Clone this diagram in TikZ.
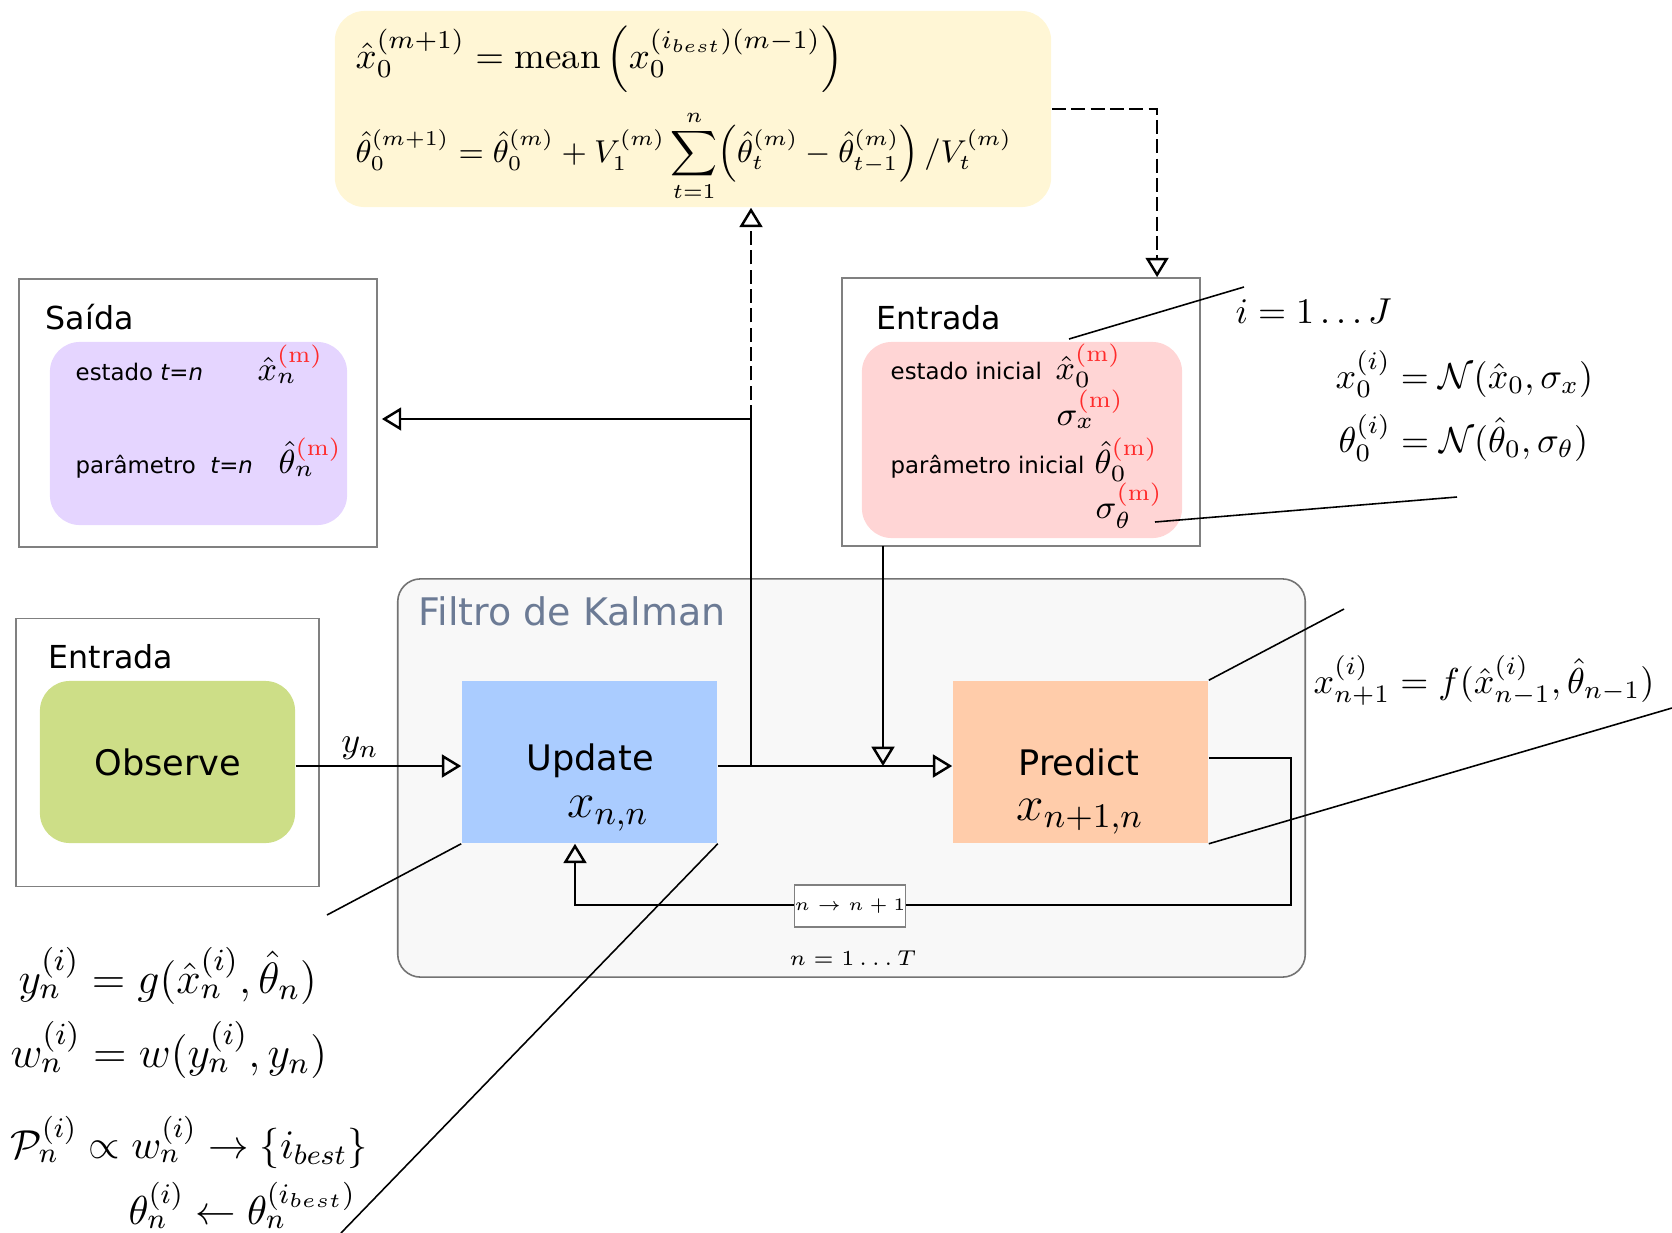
\RequirePackage{fix-cm}
\documentclass[tikz,border=0pt]{standalone}
\usepackage{amsmath, amssymb}
\usepackage{fontspec}
\newfontfamily\dejavu{DejaVu Sans}
\usepackage{tikz}
\usetikzlibrary{arrows.meta}
\usetikzlibrary{positioning}

\definecolor{cremeyellow}{HTML}{FFF6D5}
\definecolor{lilac}{HTML}{E5D5FF}
\definecolor{rosepink}{HTML}{FFD5D5}
\definecolor{olivegreen}{HTML}{CDDE87}
\definecolor{skyblue}{HTML}{AACCFF}
\definecolor{peach}{HTML}{FFCCAA}
\definecolor{kalmanfill}{HTML}{F8F8F8}
\definecolor{kalmantitle}{HTML}{6C7B95}
\definecolor{framegray}{HTML}{808080}
\definecolor{iterred}{HTML}{FF2A2A}

\newcommand{\mred}{\textcolor{iterred}{(\mathrm{m})}}

\begin{document}
\begin{tikzpicture}[x=0.01cm, y=-0.01cm,
    outerbox/.style={draw=framegray, line width=0.45pt, inner sep=0pt},
    softbox/.style={draw=none, rounded corners=8.5pt, inner sep=0pt},
    block/.style={draw=none, inner sep=0pt, minimum width=2.55cm, minimum height=1.62cm},
    title/.style={font=\dejavu\fontsize{9}{11}\selectfont, anchor=base west, inner sep=0pt},
    sanslabel/.style={font=\dejavu\fontsize{6.5}{8}\selectfont, anchor=base west, inner sep=0pt},
    blocklabel/.style={font=\dejavu\fontsize{10}{12}\selectfont, anchor=base, inner sep=0pt},
    mathlabel/.style={font=\fontsize{10.25}{12}\selectfont, anchor=base west, inner sep=0pt},
    boxmath/.style={font=\fontsize{9.5}{11}\selectfont, anchor=base west, inner sep=0pt},
    bigmath/.style={font=\fontsize{12.5}{15}\selectfont, anchor=base west, inner sep=0pt},
    flow/.style={line width=0.7pt, -{Triangle[open, length=5.5pt, width=6.5pt]}},
    feed/.style={flow, dash pattern=on 4pt off 1.5pt},
    callout/.style={line width=0.45pt}]
    \useasboundingbox (0,0) rectangle (1672,1233);

    % equacoes de atualizacao
    \node[softbox, fill=cremeyellow, minimum width=7.16cm, minimum height=1.96cm] (update eq) at (693,109) {};
    \node[mathlabel, font=\fontsize{10.5}{12}\selectfont] (eq x0) at (355,68)
        {$\hat{x}_0^{(m+1)} = \mathrm{mean}\,\Bigl(x_0^{(i_{best})(m-1)}\Bigr)$};
    \node[mathlabel, font=\fontsize{9}{11}\selectfont] (eq theta0) at (355,162)
        {$\hat{\theta}_0^{(m+1)} = \hat{\theta}_0^{(m)} + V_1^{(m)} \displaystyle\sum_{t=1}^{n} \Bigl(\hat{\theta}_t^{(m)} - \hat{\theta}_{t-1}^{(m)}\Bigr) \,/ V_t^{(m)}$};

    % saida
    \node[outerbox, minimum width=3.58cm, minimum height=2.68cm] (saida) at (198,413) {};
    \node[title] (saida title) at (45,329) {Saída};
    \node[softbox, fill=lilac, minimum width=2.97cm, minimum height=1.83cm] (saida inner) at (198.5,433.5) {};
    \node[sanslabel] (est n) at (75,380) {estado \textit{t=n}};
    \node[boxmath] (est n val) at (257,380) {$\hat{x}_n^{\mred}$};
    \node[sanslabel] (par n) at (75,473) {parâmetro\ \ \textit{t=n}};
    \node[boxmath] (par n val) at (278,473) {$\hat{\theta}_n^{\mred}$};

    % entrada: condicoes iniciais
    \node[outerbox, minimum width=3.58cm, minimum height=2.68cm] (entrada ini) at (1021,412) {};
    \node[title] (ini title) at (876,329) {Entrada};
    \node[softbox, fill=rosepink, minimum width=3.2cm, minimum height=1.96cm] (ini inner) at (1022,440) {};
    \node[sanslabel] (est ini) at (890,379) {estado inicial};
    \node[boxmath] (est ini val) at (1055,379) {$\hat{x}_0^{\mred}$};
    \node[boxmath] (sig x) at (1056,425) {$\sigma_x^{\mred}$};
    \node[sanslabel] (par ini) at (890,473) {parâmetro inicial};
    \node[boxmath] (par ini val) at (1094,473) {$\hat{\theta}_0^{\mred}$};
    \node[boxmath] (sig theta) at (1095,518) {$\sigma_\theta^{\mred}$};

    % filtro de kalman
    \node[draw=framegray!90!black, line width=0.45pt, fill=kalmanfill, rounded corners=6.5pt, inner sep=0pt,
        minimum width=9.07cm, minimum height=3.98cm] (kalman) at (851.5,778) {};
    \node[font=\dejavu\fontsize{10.8}{13}\selectfont, text=kalmantitle, anchor=base west, inner sep=0pt]
        (kalman title) at (418,625) {Filtro de Kalman};

    % entrada: observacoes
    \node[outerbox, minimum width=3.03cm, minimum height=2.68cm] (entrada obs) at (167.5,752.5) {};
    \node[title] (obs title) at (48,668) {Entrada};
    \node[softbox, fill=olivegreen, minimum width=2.55cm, minimum height=1.62cm] (observe) at (167.5,762) {};
    \node[blocklabel] (observe text) at (168,775) {Observe};

    \node[block, fill=skyblue] (update) at (589.5,762) {};
    \node[blocklabel] (update text) at (590,770) {Update};
    \node[mathlabel, anchor=base, font=\fontsize{14}{16}\selectfont] (update state) at (608,817) {$x_{n,n}$};

    \node[block, fill=peach] (predict) at (1080.5,762) {};
    \node[blocklabel] (predict text) at (1079,775) {Predict};
    \node[mathlabel, anchor=base, font=\fontsize{14}{16}\selectfont] (predict state) at (1080,820) {$x_{n+1,n}$};

    % conexoes
    \coordinate (branch) at (751,766);
    \coordinate (saida tap) at (751,419);
    \coordinate (ini drop) at (883,546);
    \coordinate (loop right) at (1291,905);
    \coordinate (loop left) at (575,905);

    \draw[flow] ([yshift=-0.04cm]observe.east) -- ([yshift=-0.04cm]update.west);
    \node[mathlabel, anchor=base] (yn) at (360,752) {$y_n$};
    \draw[flow] ([yshift=-0.04cm]update.east) -- ([yshift=-0.04cm]predict.west);
    \draw[line width=0.7pt] (branch) -- (saida tap);
    \draw[flow] (saida tap) -- ([xshift=0.04cm]saida tap -| saida.east);
    \draw[feed] (saida tap) -- (saida tap |- update eq.south);
    \draw[feed] (update eq.east) -| ([xshift=1.36cm]entrada ini.north);
    \draw[flow] (ini drop) -- (ini drop |- branch);
    \draw[flow] ([yshift=0.04cm]predict.east) -| (loop right) -- (loop left) -- (loop left |- update.south);
    \node[draw=framegray, line width=0.45pt, fill=white, inner sep=0pt, minimum width=1.09cm, minimum height=0.42cm,
        font=\fontsize{5}{6}\selectfont] (step n) at (850,906) {$n \to n+1$};
    \node[mathlabel, anchor=base, font=\fontsize{6.1}{7}\selectfont] (range n) at (853,965) {$n = 1\ldots T$};

    % linhas de chamada
    \coordinate (upd c1) at (327,915);
    \coordinate (upd c2) at (341,1233);
    \coordinate (pred c1) at (1344,609);
    \coordinate (pred c2) at (1672,708);
    \coordinate (ini c1a) at (1069,339);
    \coordinate (ini c1b) at (1244,287);
    \coordinate (ini c2a) at (1155,522);
    \coordinate (ini c2b) at (1457,497);
    \draw[callout] (update.south west) -- (upd c1);
    \draw[callout] (update.south east) -- (upd c2);
    \draw[callout] (predict.north east) -- (pred c1);
    \draw[callout] (predict.south east) -- (pred c2);
    \draw[callout] (ini c1a) -- (ini c1b);
    \draw[callout] (ini c2a) -- (ini c2b);

    % equacoes auxiliares
    \node[mathlabel] (range i) at (1235,323) {$i = 1\ldots J$};
    \node[mathlabel] (sample x) at (1335,388) {$x_0^{(i)} = \mathcal{N}(\hat{x}_0, \sigma_x)$};
    \node[mathlabel] (sample theta) at (1338,452) {$\theta_0^{(i)} = \mathcal{N}(\hat{\theta}_0, \sigma_\theta)$};
    \node[mathlabel] (model f) at (1313,693) {$x_{n+1}^{(i)} = f(\hat{x}_{n-1}^{(i)}, \hat{\theta}_{n-1})$};

    \node[bigmath] (obs g) at (18,993) {$y_n^{(i)} = g(\hat{x}_n^{(i)}, \hat{\theta}_n)$};
    \node[bigmath] (weight) at (10,1067) {$w_n^{(i)} = w(y_n^{(i)}, y_n)$};
    \node[bigmath, font=\fontsize{11.5}{14}\selectfont] (resample) at (10,1158) {$\mathcal{P}_n^{(i)} \propto w_n^{(i)} \to \{i_{best}\}$};
    \node[bigmath, font=\fontsize{11.5}{14}\selectfont] (theta copy) at (128,1224) {$\theta_n^{(i)} \leftarrow \theta_n^{(i_{best})}$};
\end{tikzpicture}
\end{document}
